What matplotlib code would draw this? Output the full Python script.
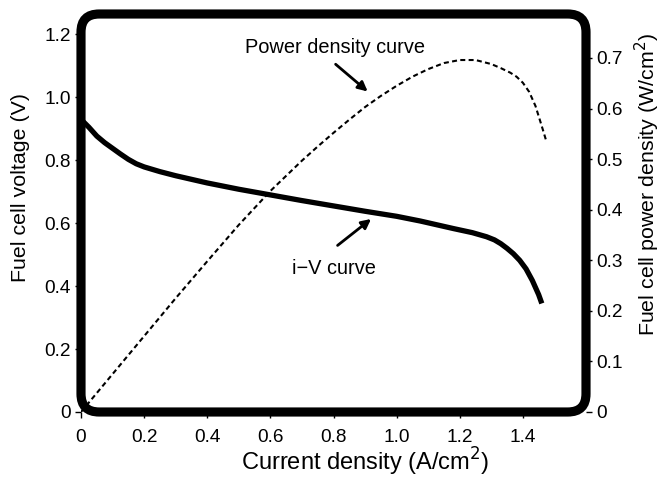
import matplotlib
matplotlib.use("Agg")
import matplotlib.pyplot as plt
from matplotlib.patches import FancyBboxPatch

plt.rcParams["font.family"] = ["Liberation Sans", "DejaVu Sans"]

# i-V curve (left axis)
iv_current = [0, 0.025, 0.05, 0.075, 0.1, 0.125, 0.15, 0.175, 0.2, 0.25, 0.3, 0.4, 0.5,
              0.6, 0.7, 0.8, 0.9, 1.0, 1.075, 1.18, 1.24, 1.285, 1.31, 1.33, 1.35, 1.37,
              1.39, 1.41, 1.43, 1.45, 1.46]
iv_voltage = [0.93, 0.905, 0.877, 0.856, 0.838, 0.82, 0.803, 0.789, 0.779, 0.764, 0.751,
              0.728, 0.708, 0.69, 0.672, 0.655, 0.638, 0.622, 0.607, 0.583, 0.57, 0.557,
              0.547, 0.535, 0.52, 0.503, 0.482, 0.455, 0.418, 0.373, 0.345]

# power density curve (right axis)
pd_current = [0, 0.1, 0.2, 0.3, 0.4, 0.5, 0.6, 0.7, 0.75, 0.8, 0.85, 0.9, 0.95, 1.0,
              1.05, 1.1, 1.15, 1.2, 1.25, 1.3, 1.33, 1.36, 1.38, 1.4, 1.42, 1.44, 1.46, 1.475]
pd_power = [0.0, 0.075, 0.15, 0.225, 0.298, 0.37, 0.437, 0.497, 0.525, 0.552, 0.578,
            0.603, 0.625, 0.645, 0.663, 0.678, 0.69, 0.696, 0.696, 0.688, 0.68, 0.671,
            0.663, 0.651, 0.633, 0.605, 0.565, 0.534]

x_ticks = [0, 0.2, 0.4, 0.6, 0.8, 1.0, 1.2, 1.4]
x_ticklabels = ["0", "0.2", "0.4", "0.6", "0.8", "1.0", "1.2", "1.4"]
v_ticks = [0, 0.2, 0.4, 0.6, 0.8, 1.0, 1.2]
v_ticklabels = ["0", "0.2", "0.4", "0.6", "0.8", "1.0", "1.2"]
p_ticks = [0, 0.1, 0.2, 0.3, 0.4, 0.5, 0.6, 0.7]
p_ticklabels = ["0", "0.1", "0.2", "0.3", "0.4", "0.5", "0.6", "0.7"]

W, H = 663, 479
fig = plt.figure(figsize=(W / 100, H / 100), dpi=100)
ax_l, ax_r, ax_b, ax_t = 81, 586, 412, 14
ax = fig.add_axes([ax_l / W, 1 - ax_b / H, (ax_r - ax_l) / W, (ax_b - ax_t) / H])
ax2 = ax.twinx()

ax.plot(iv_current, iv_voltage, color="black", lw=3.8, solid_capstyle="butt",
        solid_joinstyle="round", zorder=3)
ax2.plot(pd_current, pd_power, color="black", lw=1.5, dashes=(2.4, 1.6), zorder=3)

ax.set_xlim(0, 1.6)
ax.set_ylim(0, 1.265)
ax2.set_ylim(0, 0.787)

ax.set_xticks(x_ticks, x_ticklabels)
ax.set_yticks(v_ticks, v_ticklabels)
ax2.set_yticks(p_ticks, p_ticklabels)

for a in (ax, ax2):
    for s in a.spines.values():
        s.set_visible(False)
    a.tick_params(direction="out", length=4.5, width=1, labelsize=13.7, pad=3)
ax.tick_params(axis="x", length=4, pad=8)

ax.set_xlabel("Current density (A/cm$^2$)", fontsize=17, va="baseline")
ax.xaxis.set_label_coords(0.562, (ax_b - 471) / (ax_b - ax_t))
ax.set_ylabel("Fuel cell voltage (V)", fontsize=15.4, va="center")
ax.yaxis.set_label_coords((21 - ax_l) / (ax_r - ax_l), (ax_b - 188) / (ax_b - ax_t))
ax2.set_ylabel("Fuel cell power density (W/cm$^2$)", fontsize=15.4, va="center")
ax2.yaxis.set_label_coords((647 - ax_l) / (ax_r - ax_l), (ax_b - 184) / (ax_b - ax_t))

# rounded thick frame around the plot area
aspect = (ax_r - ax_l) / (ax_b - ax_t)
frame = FancyBboxPatch((0, 0), 1, 1, boxstyle="round,pad=0,rounding_size=0.036",
                       transform=ax.transAxes, mutation_aspect=aspect,
                       fill=False, edgecolor="black", lw=6.6, clip_on=False, zorder=5)
ax2.add_patch(frame)

# annotations
ax.text(0.806, 1.159, "Power density curve", ha="center", va="center", fontsize=14.4)
ax.annotate("", xy=(0.915, 1.013), xytext=(0.80, 1.111),
            arrowprops=dict(arrowstyle="-|>", lw=2, color="black", mutation_scale=14))
ax.text(0.80, 0.457, "i\u2212V curve", ha="center", va="center", fontsize=14.4)
ax.annotate("", xy=(0.926, 0.619), xytext=(0.806, 0.524),
            arrowprops=dict(arrowstyle="-|>", lw=2, color="black", mutation_scale=14))

fig.savefig("out.png", dpi=100)
